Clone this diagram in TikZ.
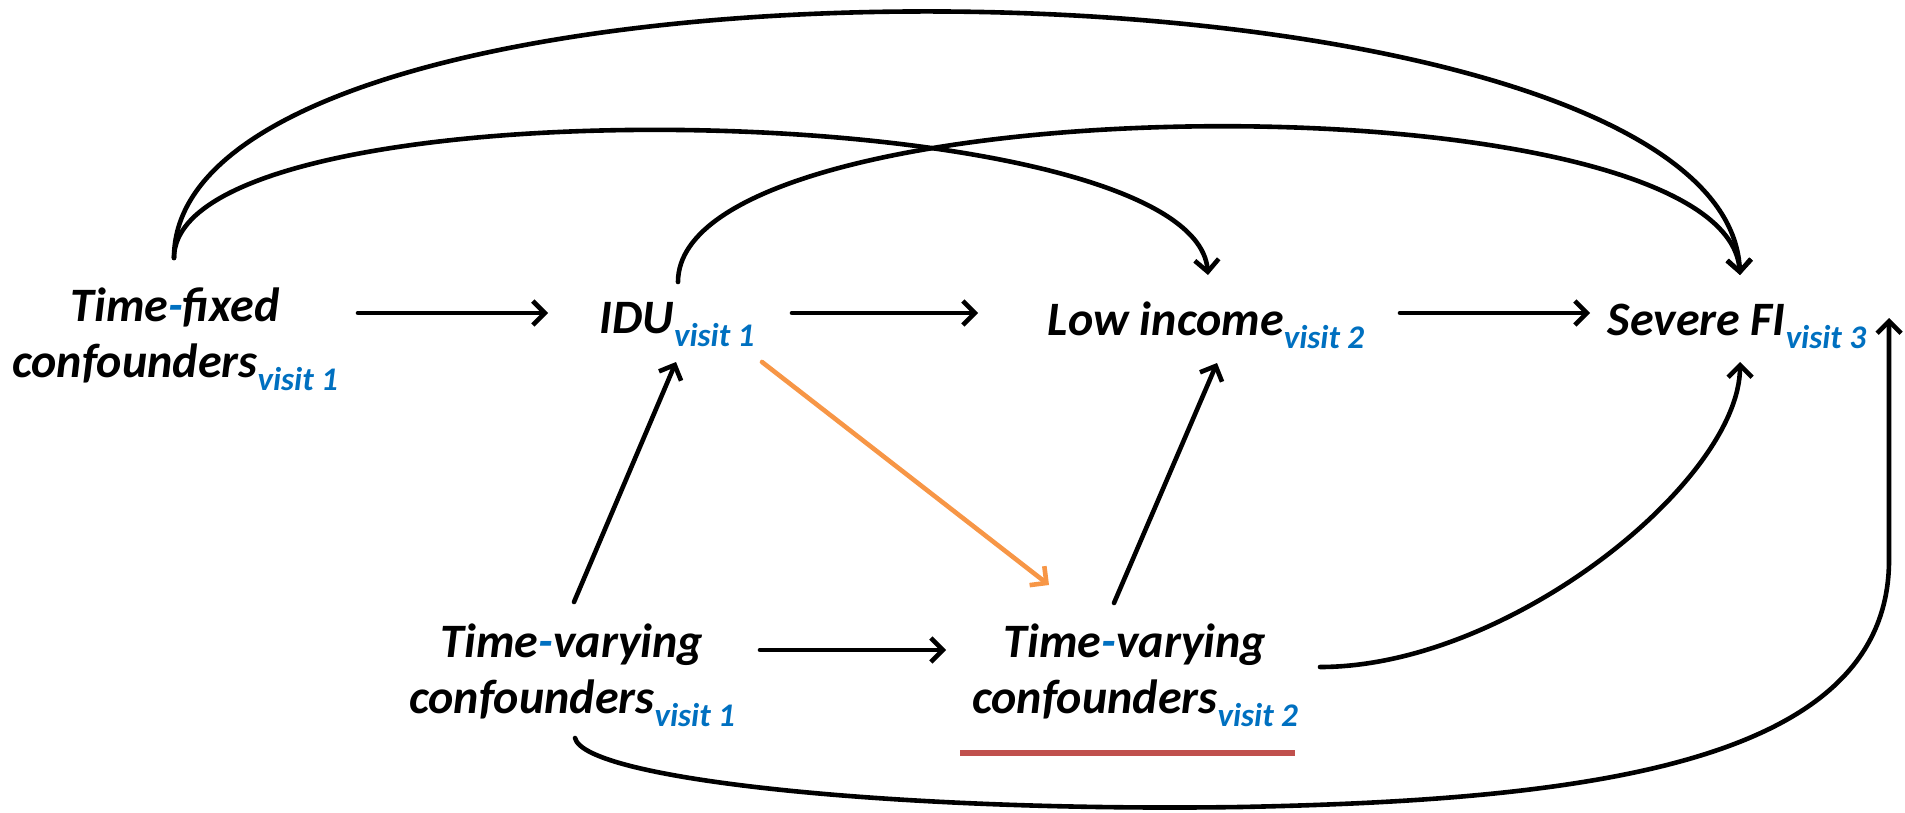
\documentclass[tikz,border=0pt]{standalone}
\usepackage{fontspec}
\setmainfont{Carlito}
\usepackage{tikz}
\usetikzlibrary{arrows.meta}
\usetikzlibrary{calc}
\definecolor{visitblue}{HTML}{0070C0}
\definecolor{pathorange}{HTML}{F79646}
\definecolor{markred}{HTML}{C0504D}
\newcommand{\visit}[1]{\raisebox{-6.5pt}{\fontsize{16.5}{16.5}\selectfont\textcolor{visitblue}{visit #1}}}
\newcommand{\bluedash}{\textcolor{visitblue}{-}}
\tikzset{
    var/.style={font=\fontsize{24}{28}\selectfont\bfseries\itshape, inner sep=0pt, align=center},
    effect/.style={draw=black, line width=2.3pt, line cap=round,
        -{Straight Barb[length=6pt,width=12pt]}},
    bias/.style={draw=pathorange, line width=2.3pt, line cap=round,
        -{Straight Barb[length=6pt,width=12pt]}},
}

\begin{document}
\begin{tikzpicture}[x=0.5pt, y=-0.5pt]
	\useasboundingbox (0,0) rectangle (1905,813);
	\node[var] (tf) at (175,339) {Time\bluedash fixed\\confounders\visit{1}};
	\node[var, anchor=base] (idu) at (677,333) {IDU\visit{1}};
	\node[var, anchor=base] (low) at (1206,335) {Low income\visit{2}};
	\node[var, anchor=base] (sfi) at (1737,335) {Severe FI\visit{3}};
	\node[var] (tv1) at (572,675) {Time\bluedash varying\\confounders\visit{1}};
	\node[var] (tv2) at (1135,675) {Time\bluedash varying\\confounders\visit{2}};
	% straight arrows
	\draw[effect] ($(tf)+(183,-26)$) -- ($(idu.base)+(-129,-20)$);
	\draw[effect] ($(idu.base)+(115,-20)$) -- ($(low.base)+(-228,-22)$);
	\draw[effect] ($(low.base)+(194,-22)$) -- ($(sfi.base)+(-147,-22)$);
	\draw[effect] ($(tv1)+(2,-73)$) -- ($(idu.base)+(-1,29)$);
	\draw[bias] ($(idu.base)+(85,29)$) -- ($(tv2)+(-86,-90)$);
	\draw[effect] ($(tv1)+(188,-25)$) -- ($(tv2)+(-189,-25)$);
	\draw[effect] ($(tv2)+(-21,-72)$) -- ($(low.base)+(11,28)$);
	% curved arrows
	\draw[effect] ($(tf)+(-1,-81)$) .. controls +(0,-181) and +(-15,-181) .. ($(low.base)+(2,-60)$);
	\draw[effect] ($(tf)+(-1,-81)$) .. controls +(0,-339) and +(-15,-339) .. ($(sfi.base)+(3,-60)$);
	\draw[effect] ($(idu.base)+(1,-51)$) .. controls +(0,-202) and +(-15,-202) .. ($(sfi.base)+(3,-60)$);
	\draw[effect] ($(tv2)+(185,-8)$) .. controls +(190,0) and +(0,118) .. ($(sfi.base)+(3,27)$);
	\draw[effect] ($(tv1)+(3,63)$) .. controls +(10,42) and +(-340,5) .. (1240,807)
		.. controls +(360,-7) and +(0,200) .. (1889,560) -- ($(sfi.base)+(152,-17)$);
	\draw[markred, line width=3pt] ($(tv2)+(-175,78)$) -- ($(tv2)+(160,78)$);
\end{tikzpicture}
\end{document}
